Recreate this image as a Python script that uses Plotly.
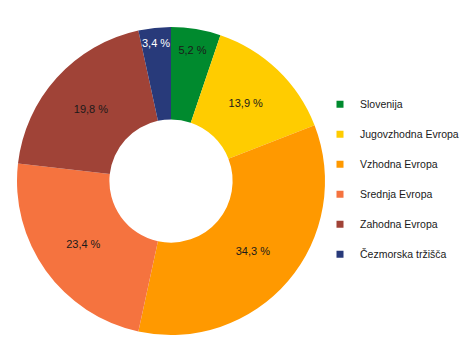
import plotly.graph_objects as go

regions = ["Slovenija", "Jugovzhodna Evropa", "Vzhodna Evropa", "Srednja Evropa", "Zahodna Evropa", "Čezmorska tržišča"]
shares = [5.2, 13.9, 34.3, 23.4, 19.8, 3.4]
colors = ["#008A2E", "#FFCC00", "#FF9900", "#F5733F", "#A04337", "#283A7A"]
text_colors = ["#1a1a1a", "#1a1a1a", "#1a1a1a", "#1a1a1a", "#1a1a1a", "#ffffff"]

labels_txt = [f"{v:.1f}".replace(".", ",") + " %" for v in shares]

W, H = 462, 349  # page body has an 8px margin

fig = go.Figure()
fig.add_trace(go.Pie(
    labels=regions,
    values=shares,
    text=labels_txt,
    textinfo="text",
    textposition="inside",
    insidetextorientation="horizontal",
    insidetextfont=dict(family="Liberation Sans, Arial, sans-serif", size=11, color=text_colors),
    marker=dict(colors=colors, line=dict(width=0)),
    sort=False,
    direction="clockwise",
    rotation=0,
    hole=0.4,
    showlegend=False,
    domain=dict(x=[9/W, 317/W], y=[22/H, 330/H]),
))

for i, (name, col) in enumerate(zip(regions, colors)):
    fig.add_trace(go.Scatter(
        x=[None], y=[None], mode="markers", name=name,
        marker=dict(symbol="square", size=7, color=col),
        legendgroup=f"g{i}", showlegend=True,
    ))

fig.update_layout(
    width=W, height=H,
    margin=dict(l=0, r=0, t=0, b=0),
    paper_bgcolor="white", plot_bgcolor="white",
    font=dict(family="Liberation Sans, Arial, sans-serif", size=11, color="#1a1a1a"),
    uniformtext=dict(minsize=11, mode="show"),
    xaxis=dict(visible=False), yaxis=dict(visible=False),
    legend=dict(
        x=312/W, xanchor="left", y=0.766, yanchor="top",
        tracegroupgap=11, traceorder="grouped",
        font=dict(size=10.5, color="#1a1a1a"),
        itemwidth=30, bgcolor="rgba(0,0,0,0)",
    ),
)

fig.write_html("out.html")
